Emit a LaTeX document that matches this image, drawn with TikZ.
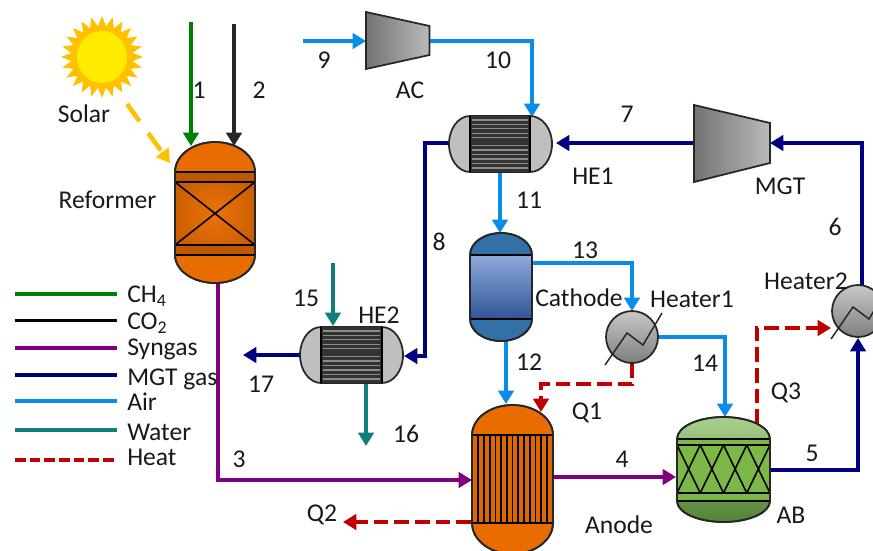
\documentclass[tikz,border=0pt]{standalone}
\usepackage{fontspec}
\setmainfont{Carlito}
\usetikzlibrary{arrows.meta,calc}
\definecolor{cCH}{HTML}{008000}
\definecolor{cCO}{HTML}{262626}
\definecolor{cSyn}{HTML}{800080}
\definecolor{cMGT}{HTML}{000080}
\definecolor{cAir}{HTML}{0C8CE9}
\definecolor{cWat}{HTML}{0F7F7A}
\definecolor{cHeat}{HTML}{C00000}
\definecolor{cSun}{HTML}{FFC000}
\definecolor{cSunIn}{HTML}{FFEB00}
\definecolor{cOr}{HTML}{E96C00}
\definecolor{cGrey}{HTML}{BFBFBF}
\definecolor{cDome}{HTML}{3370A8}
\definecolor{cBlueT}{HTML}{8FAADC}
\definecolor{cBlueM}{HTML}{4472C4}
\definecolor{cBlueB}{HTML}{2F5597}
\definecolor{cGrT}{HTML}{A9D18E}
\definecolor{cGrM}{HTML}{7CB848}
\definecolor{cGrB}{HTML}{548235}
\tikzset{
  flow/.style={line width=3.4pt,line join=miter,-{Triangle[length=10pt,width=11.5pt]}},
  heatflow/.style={line width=3.4pt,cHeat,dash pattern=on 11pt off 4.5pt,-{Triangle[length=10pt,width=11.5pt]}},
  outline/.style={draw=black!85,line width=1.3pt},
  lab/.style={font=\fontsize{19.2}{21}\selectfont,inner sep=0pt,text=black!90},
  hit/.style={draw=none,inner sep=0pt,minimum width=#1},
  legline/.style={line width=2.8pt}
}
% vertical vessel: style, x1, x2, ytop, y1, y2, ybot
\newcommand{\vesselshape}[7]{%
  \pgfmathsetmacro{\xm}{(#2+#3)/2}%
  \pgfmathsetmacro{\xa}{\xm-0.5523*(#3-#2)/2}%
  \pgfmathsetmacro{\xb}{\xm+0.5523*(#3-#2)/2}%
  \pgfmathsetmacro{\ya}{#5-0.5523*(#5-#4)}%
  \pgfmathsetmacro{\yb}{#6+0.5523*(#7-#6)}%
  \path[#1] (#2,#5) .. controls (#2,\ya) and (\xa,#4) .. (\xm,#4)
    .. controls (\xb,#4) and (#3,\ya) .. (#3,#5) -- (#3,#6)
    .. controls (#3,\yb) and (\xb,#7) .. (\xm,#7)
    .. controls (\xa,#7) and (#2,\yb) .. (#2,#6) -- cycle;}
% horizontal exchanger: x1, x2, ytop, ybot, tube x1, tube x2
\newcommand{\exchanger}[6]{%
  \pgfmathsetmacro{\ym}{(#3+#4)/2}%
  \pgfmathsetmacro{\yc}{0.5523*(#4-#3)/2}%
  \pgfmathsetmacro{\xc}{0.5523*(#5-#1)}%
  \pgfmathsetmacro{\xd}{0.5523*(#2-#6)}%
  \path[fill=cGrey,outline] (#5,#3) .. controls ({#5-\xc},#3) and (#1,{\ym-\yc}) .. (#1,\ym)
     .. controls (#1,{\ym+\yc}) and ({#5-\xc},#4) .. (#5,#4) -- (#6,#4)
     .. controls ({#6+\xd},#4) and (#2,{\ym+\yc}) .. (#2,\ym)
     .. controls (#2,{\ym-\yc}) and ({#6+\xd},#3) .. (#6,#3) -- cycle;
  \fill[black!80] (#5,#3) rectangle (#6,#4);
  \foreach \f in {0.06,0.14,0.22,0.30,0.38,0.52,0.60,0.68,0.76,0.84,0.92}{
    \draw[black!45,line width=1pt] ({#5+2},{#3+\f*(#4-#3)+0.5}) -- ({#6-2},{#3+\f*(#4-#3)+0.5});}
  \draw[black,line width=1.3pt] (#5,#3) -- (#5,#4) (#6,#3) -- (#6,#4);}
\newcommand{\heatex}[2]{%
  \path[outline,top color=black!22,bottom color=black!50] (#1,#2) circle[radius=26];
  \draw[black!85,line width=1.1pt] ({#1-27},{#2+28}) -- ({#1-5},{#2-4}) -- ({#1+11},{#2+8}) -- ({#1+30},{#2-24});}
\begin{document}
\begin{tikzpicture}[x=0.75pt,y=-0.75pt]
\useasboundingbox (0,0) rectangle (873,550);
\begin{scope}
\clip (0,0) rectangle (873,550);

% ---- equipment anchors
\node[hit=82,minimum height=82] (sun) at (102,57) {};
\node[hit=80,minimum height=141] (reformer) at (215,212.5) {};
\node[hit=103,minimum height=56] (he1) at (500.5,144) {};
\node[hit=103,minimum height=56] (he2) at (351.5,355) {};
\node[hit=62,minimum height=108] (cathode) at (501,287) {};
\node[hit=81,minimum height=148] (anode) at (512.5,479) {};
\node[hit=93,minimum height=105] (ab) at (723.5,469.5) {};
\node[hit=63,minimum height=57] (ac) at (398,41) {};
\node[hit=76,minimum height=77] (mgt) at (732,143.5) {};
\node[hit=52,minimum height=52] (heaterA) at (632,337) {};
\node[hit=52,minimum height=52] (heaterB) at (858,311) {};

% ---- port coordinates
\coordinate (in1) at (191,22);   \coordinate (r1) at (191,146);
\coordinate (in2) at (234,24);   \coordinate (r2) at (234,146);
\coordinate (solA) at (127,104); \coordinate (solB) at (170,163);
\coordinate (r3) at (218,283);   \coordinate (an3) at (472,480); \coordinate (k3) at (218,480);
\coordinate (in9) at (303,41);   \coordinate (ac9) at (366,41);
\coordinate (ac10) at (429,41);  \coordinate (he10) at (532,117); \coordinate (k10) at (532,41);
\coordinate (he11) at (500,172); \coordinate (ca11) at (500,233);
\coordinate (ca13) at (532,263); \coordinate (h13) at (632,311); \coordinate (k13) at (632,263);
\coordinate (ca12) at (506,341); \coordinate (an12) at (506,404);
\coordinate (h14) at (657,337);  \coordinate (ab14) at (725,417); \coordinate (k14) at (725,337);
\coordinate (h1q) at (632,363);  \coordinate (an1q) at (541,412);
\coordinate (k1qa) at (632,384); \coordinate (k1qb) at (541,384);
\coordinate (an2q) at (471,522); \coordinate (out2q) at (343,522);
\coordinate (abq) at (757,424);  \coordinate (h3q) at (831,328); \coordinate (k3q) at (757,328);
\coordinate (an4) at (551,477);  \coordinate (ab4) at (676,477);
\coordinate (ab5) at (770,470);  \coordinate (hb5) at (858,338); \coordinate (k5) at (858,470);
\coordinate (hb6) at (862,286);  \coordinate (mg6) at (770,143); \coordinate (k6) at (862,143);
\coordinate (mg7) at (694,143);  \coordinate (he7) at (556,143);
\coordinate (he8a) at (449,143); \coordinate (he8b) at (404,356);
\coordinate (k8a) at (425,143);  \coordinate (k8b) at (425,356);
\coordinate (he17) at (300,355); \coordinate (out17) at (243,355);
\coordinate (in15) at (333,263); \coordinate (he15) at (333,326);
\coordinate (he16) at (366,383); \coordinate (out16) at (366,446);

% ---- sun
\fill[cSun] plot[samples=49,domain=0:360] ({102+(mod(round(\x/7.5),2)==0 ? 41 : 31)*cos(\x)},{57+(mod(round(\x/7.5),2)==0 ? 41 : 31)*sin(\x)}) -- cycle;
\fill[cSunIn] (102,57) ellipse[x radius=25,y radius=26];

% ---- connectors
\draw[flow,cCH] (in1) -- (r1);
\draw[flow,cCO] (in2) -- (r2);
\draw[flow,cSun,dash pattern=on 16pt off 11pt] (solA) -- (solB);
\draw[flow,cSyn] (r3) -- (k3) -- (an3);
\draw[flow,cAir] (in9) -- (ac9);
\draw[flow,cAir] (ac10) -- (k10) -- (he10);
\draw[flow,cAir] (he11) -- (ca11);
\draw[flow,cAir] (ca13) -- (k13) -- (h13);
\draw[flow,cAir] (ca12) -- (an12);
\draw[flow,cAir] (h14) -- (k14) -- (ab14);
\draw[heatflow] (h1q) -- (k1qa) -- (k1qb) -- (an1q);
\draw[heatflow] (an2q) -- (out2q);
\draw[heatflow] (abq) -- (k3q) -- (h3q);
\draw[flow,cSyn] (an4) -- (ab4);
\draw[flow,cMGT] (ab5) -- (k5) -- (hb5);
\draw[flow,cMGT] (hb6) -- (k6) -- (mg6);
\draw[flow,cMGT] (mg7) -- (he7);
\draw[flow,cMGT] (he8a) -- (k8a) -- (k8b) -- (he8b);
\draw[flow,cMGT] (he17) -- (out17);
\draw[flow,cWat] (in15) -- (he15);
\draw[flow,cWat] (he16) -- (out16);

% ---- reformer
\vesselshape{fill=cOr,outline}{175}{255}{142}{172}{255}{283}
\fill[inner color=cOr!95!white,outer color=cOr!88!black] (175,172) rectangle (255,255);
\fill[cOr!82!black] (175,172) rectangle (255,182);
\fill[cOr!82!black] (175,245) rectangle (255,255);
\draw[black,line width=1.2pt] (175,172) -- (255,172) (175,182) -- (255,182)
  (175,245) -- (255,245) (175,255) -- (255,255) (175,182) -- (255,245) (175,245) -- (255,182);
\vesselshape{outline}{175}{255}{142}{172}{255}{283}

% ---- exchangers
\exchanger{449}{552}{116}{172}{470}{530}
\exchanger{300}{403}{327}{383}{321}{382}

% ---- turbines
\path[outline,left color=black!55,right color=black!27] (366,12) -- (429.5,26) -- (429.5,55) -- (366,69) -- cycle;
\path[outline,left color=black!55,right color=black!27] (694,105) -- (770,123) -- (770,163) -- (694,182) -- cycle;

% ---- cathode
\vesselshape{fill=cDome,outline}{470}{532}{233}{255}{319}{341}
\path[top color=cBlueT,middle color=cBlueM,bottom color=cBlueB] (470,255) rectangle (532,319);
\draw[black,line width=1.2pt] (470,255) -- (532,255) (470,319) -- (532,319);
\vesselshape{outline}{470}{532}{233}{255}{319}{341}

% ---- heaters
\heatex{632}{337}
\heatex{858}{311}

% ---- anode
\vesselshape{fill=cOr,outline}{472}{553}{405}{435}{523}{554}
\fill[cOr!95!black] (472,435) rectangle (553,523);
\foreach \i in {0,...,14}{\draw[black,line width=1.25pt] ({472.5+\i*5.72},435) -- ({472.5+\i*5.72},523);}
\draw[black,line width=1.5pt] (472,435) -- (553,435) (472,523) -- (553,523);
\vesselshape{outline}{472}{553}{405}{435}{523}{554}

% ---- AB
\vesselshape{top color=cGrT,bottom color=cGrB,outline}{677}{770}{417}{439}{501}{522}
\fill[cGrM] (677,439) rectangle (770,501);
\draw[black,line width=1.2pt] (677,439) -- (770,439) (677,445) -- (770,445) (677,493) -- (770,493) (677,501) -- (770,501);
\foreach \i in {0,...,3}{
  \draw[black,line width=1.2pt] ({677+\i*23.25},445) -- ({677+(\i+1)*23.25},493)
    ({677+(\i+1)*23.25},445) -- ({677+\i*23.25},493);}
\vesselshape{outline}{677}{770}{417}{439}{501}{522}

% ---- legend
\coordinate (la) at (15,294);  \coordinate (lb) at (117,294);
\draw[legline,cCH] (la) -- (lb);
\coordinate (la2) at (15,320.5); \coordinate (lb2) at (117,320.5);
\draw[legline,black] (la2) -- (lb2);
\coordinate (la3) at (15,348); \coordinate (lb3) at (117,348);
\draw[legline,cSyn] (la3) -- (lb3);
\coordinate (la4) at (15,375); \coordinate (lb4) at (117,375);
\draw[legline,cMGT] (la4) -- (lb4);
\coordinate (la5) at (15,401); \coordinate (lb5) at (117,401);
\draw[legline,cAir] (la5) -- (lb5);
\coordinate (la6) at (15,430); \coordinate (lb6) at (117,430);
\draw[legline,cWat] (la6) -- (lb6);
\coordinate (la7) at (15,460); \coordinate (lb7) at (117,460);
\draw[legline,cHeat,dash pattern=on 8pt off 3pt] (la7) -- (lb7);

\node[lab,anchor=west] (lCH) at (127,296) {CH\textsubscript{4}};
\node[lab,anchor=west] (lCO) at (127,323) {CO\textsubscript{2}};
\node[lab,anchor=west] (lSy) at (127,349) {Syngas};
\node[lab,anchor=west] (lMG) at (127,379) {MGT gas};
\node[lab,anchor=west] (lAi) at (127,402) {Air};
\node[lab,anchor=west] (lWa) at (127,432) {Water};
\node[lab,anchor=west] (lHe) at (127,457) {Heat};

% ---- labels
\node[lab] (tSolar) at (84,114) {Solar};
\node[lab] (tRef) at (107.5,200) {Reformer};
\node[lab] (t1) at (199,90) {1};
\node[lab] (t2) at (259,90) {2};
\node[lab] (t3) at (239,459) {3};
\node[lab] (t4) at (622,459) {4};
\node[lab] (t5) at (812,453) {5};
\node[lab] (t6) at (835,227) {6};
\node[lab] (t7) at (627,114) {7};
\node[lab] (t8) at (439,242) {8};
\node[lab] (t9) at (324,60) {9};
\node[lab] (t10) at (498,60) {10};
\node[lab] (t11) at (529,200) {11};
\node[lab] (t12) at (529,362) {12};
\node[lab] (t13) at (585,250) {13};
\node[lab] (t14) at (705,363) {14};
\node[lab] (t15) at (306,298) {15};
\node[lab] (t16) at (406,434) {16};
\node[lab] (t17) at (261,384) {17};
\node[lab] (tAC) at (410,90) {AC};
\node[lab] (tHE1) at (593,176) {HE1};
\node[lab] (tHE2) at (379,315) {HE2};
\node[lab] (tMGT) at (780,186) {MGT};
\node[lab] (tCat) at (579,298) {Cathode};
\node[lab] (tH1) at (692,299) {Heater1};
\node[lab] (tH2) at (806,281) {Heater2};
\node[lab] (tQ1) at (587,413) {Q1};
\node[lab] (tQ2) at (322,515) {Q2};
\node[lab] (tQ3) at (786,393) {Q3};
\node[lab] (tAn) at (619,525) {Anode};
\node[lab] (tAB) at (791,515) {AB};
\end{scope}
\end{tikzpicture}
\end{document}
